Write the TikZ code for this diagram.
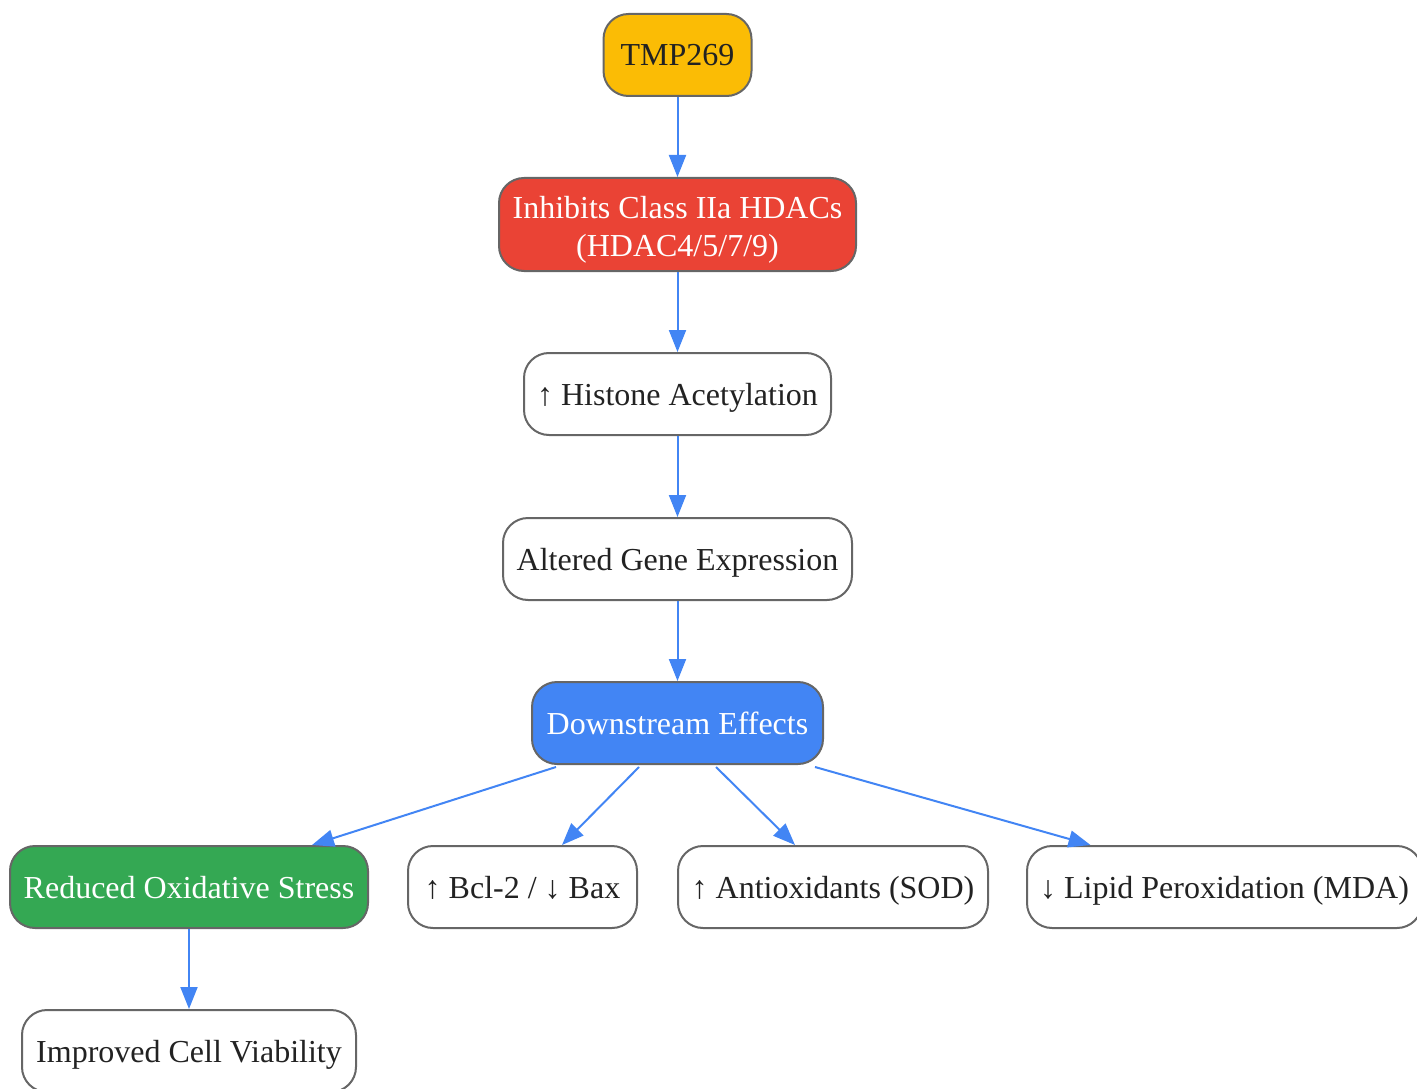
\documentclass[tikz,border=0pt]{standalone}
\usepackage{fontspec}
\setmainfont{Liberation Serif}
\usetikzlibrary{arrows.meta}
\definecolor{edgeblue}{HTML}{4285F4}
\definecolor{gyellow}{HTML}{FBBC05}
\definecolor{gred}{HTML}{EA4335}
\definecolor{gblue}{HTML}{4285F4}
\definecolor{ggreen}{HTML}{34A853}
\definecolor{bordergray}{HTML}{666666}
\definecolor{txt}{HTML}{222222}
\begin{document}
\begin{tikzpicture}[x=1pt,y=-1pt,
  box/.style={draw=bordergray,line width=2pt,rounded corners=25pt,fill=white,
    minimum height=82pt,inner sep=0pt,align=center,text=txt,
    text height=25pt,text depth=3pt,
    font=\fontsize{32}{38}\selectfont},
  conn/.style={draw=edgeblue,line width=2pt,-{Triangle[length=22pt,width=17pt]}}]
\useasboundingbox (0,0) rectangle (1417,1089);
\node[box,fill=gyellow,minimum width=148pt] (tmp) at (677.5,55) {TMP269};
\node[box,fill=gred,text=white,minimum width=357pt,minimum height=93pt,text height=63pt,text depth=0pt] (inh) at (677.5,224.5) {Inhibits Class IIa HDACs\\(HDAC4/5/7/9)};
\node[box,minimum width=307pt] (his) at (677.5,394) {↑ Histone Acetylation};
\node[box,minimum width=349pt] (alt) at (677.5,559) {Altered Gene Expression};
\node[box,fill=gblue,text=white,minimum width=291pt] (ds) at (677.5,723) {Downstream Effects};
\node[box,fill=ggreen,text=white,minimum width=358pt] (ros) at (189,887) {Reduced Oxidative Stress};
\node[box,minimum width=229pt] (bcl) at (522.5,887) {↑ Bcl-2 / ↓ Bax};
\node[box,minimum width=310pt] (sod) at (833,887) {↑ Antioxidants (SOD)};
\node[box,minimum width=395pt] (mda) at (1224.5,887) {↓ Lipid Peroxidation (MDA)};
\node[box,minimum width=334pt] (via) at (189,1051) {Improved Cell Viability};
\draw[conn] (tmp) -- (inh);
\draw[conn] (inh) -- (his);
\draw[conn] (his) -- (alt);
\draw[conn] (alt) -- (ds);
\draw[conn] ([xshift=-121.5pt,yshift=-2pt]ds.south) -- ([xshift=123pt]ros.north);
\draw[conn] ([xshift=-38.5pt,yshift=-2pt]ds.south) -- ([xshift=39.5pt]bcl.north);
\draw[conn] ([xshift=38.5pt,yshift=-2pt]ds.south) -- ([xshift=-38pt]sod.north);
\draw[conn] ([xshift=137.5pt,yshift=-2pt]ds.south) -- ([xshift=-134pt]mda.north);
\draw[conn] (ros) -- (via);
\end{tikzpicture}
\end{document}
